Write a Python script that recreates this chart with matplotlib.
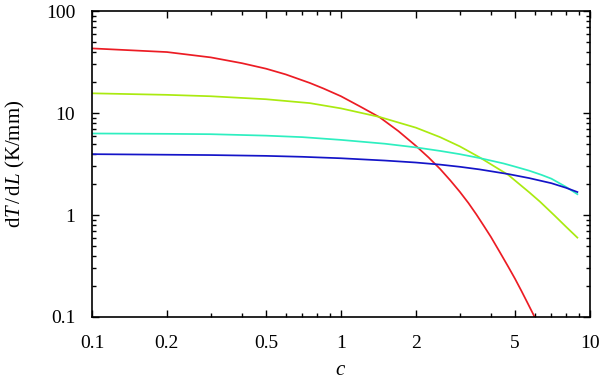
import matplotlib
matplotlib.use("Agg")
import matplotlib.pyplot as plt
from matplotlib.ticker import FixedLocator, FixedFormatter, NullFormatter, LogLocator

plt.rcParams['font.family'] = ['Liberation Serif', 'DejaVu Serif']
plt.rcParams['mathtext.fontset'] = 'custom'
plt.rcParams['mathtext.rm'] = 'Liberation Serif'
plt.rcParams['mathtext.it'] = 'Liberation Serif:italic'

# values
red_c = [0.1, 0.2, 0.3, 0.4, 0.5, 0.6, 0.75, 0.85, 1.0, 1.2, 1.43, 1.7, 2.0, 2.25,
         2.5, 2.75, 3.0, 3.25, 3.5, 3.75, 4.0, 4.35, 4.7, 5.0, 5.3, 5.6, 5.9, 6.0]
red_v = [43, 39.6, 35.1, 30.8, 27.2, 23.9, 19.7, 17.4, 14.6, 11.5, 9.08, 6.65, 4.76, 3.66,
         2.83, 2.18, 1.69, 1.31, 1.01, 0.78, 0.61, 0.43, 0.31, 0.237, 0.181, 0.139, 0.108, 0.099]

green_c = [0.1, 0.2, 0.3, 0.5, 0.75, 1.0, 1.43, 2.0, 2.5, 3.0, 3.6, 4.7, 5.7, 6.3, 7.2, 8.0, 8.9]
green_v = [15.6, 15.07, 14.6, 13.65, 12.5, 11.1, 9.14, 7.18, 5.8, 4.71, 3.68, 2.47, 1.67, 1.35, 0.99, 0.77, 0.6]

cyan_c = [0.1, 0.2, 0.3, 0.5, 0.7, 1.0, 1.5, 2.0, 2.5, 3.0, 3.6, 4.5, 5.0, 5.7, 6.4, 7.0, 8.0, 8.9]
cyan_v = [6.3, 6.25, 6.2, 6.0, 5.8, 5.45, 5.0, 4.6, 4.25, 3.95, 3.62, 3.2, 2.98, 2.72, 2.47, 2.27, 1.89, 1.6]

blue_c = [0.1, 0.2, 0.3, 0.5, 0.7, 1.0, 1.5, 2.0, 2.5, 3.0, 3.6, 4.7, 5.7, 7.0, 8.0, 8.9]
blue_v = [3.95, 3.9, 3.87, 3.8, 3.72, 3.6, 3.42, 3.27, 3.12, 2.97, 2.8, 2.52, 2.3, 2.05, 1.85, 1.68]

xticks = [0.1, 0.2, 0.5, 1, 2, 5, 10]
xticklabels = ["0.1", "0.2", "0.5", "1", "2", "5", "10"]
yticks = [0.1, 1, 10, 100]
yticklabels = ["0.1", "1", "10", "100"]

fig = plt.figure(figsize=(6, 3.8), dpi=100)
ax = fig.add_axes([0.1533, 0.1658, 0.83, 0.8052])

ax.plot(red_c, red_v, color='#ec1c24', lw=1.25)
ax.plot(green_c, green_v, color='#aaea10', lw=1.25)
ax.plot(cyan_c, cyan_v, color='#2eefc0', lw=1.25)
ax.plot(blue_c, blue_v, color='#1414c8', lw=1.25)

ax.set_xscale('log')
ax.set_yscale('log')
ax.set_xlim(0.1, 10)
ax.set_ylim(0.1, 100)

ax.xaxis.set_major_locator(FixedLocator(xticks))
ax.xaxis.set_major_formatter(FixedFormatter(xticklabels))
ax.xaxis.set_minor_locator(LogLocator(base=10, subs=(3, 4, 6, 7, 8, 9)))
ax.xaxis.set_minor_formatter(NullFormatter())
ax.yaxis.set_major_locator(FixedLocator(yticks))
ax.yaxis.set_major_formatter(FixedFormatter(yticklabels))
ax.yaxis.set_minor_locator(LogLocator(base=10, subs=range(2, 10)))
ax.yaxis.set_minor_formatter(NullFormatter())

ax.tick_params(which='both', direction='in', top=True, right=True, labelsize=14)
ax.tick_params(which='major', length=5, width=1)
ax.tick_params(which='minor', length=3, width=1)
ax.tick_params(axis='x', pad=13)
ax.tick_params(axis='y', pad=12)
for s in ax.spines.values():
    s.set_linewidth(1.2)

ax.set_xlabel('$c$', fontsize=15)
ax.set_ylabel(r'd$T\,$/$\,$d$L$ (K/mm)', fontsize=15)
ax.xaxis.set_label_coords(0.5, -0.145)
ax.yaxis.set_label_coords(-0.13, 0.5)

fig.savefig('out.png', dpi=100)
